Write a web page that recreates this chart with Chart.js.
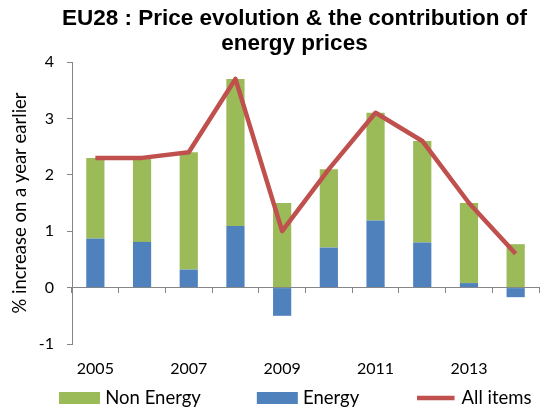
<!DOCTYPE html>
<html><head><meta charset="utf-8">
<script src="https://cdn.jsdelivr.net/npm/chart.js@4.4.1/dist/chart.umd.min.js"></script>
<style>html,body{margin:0;padding:0;background:#fff;overflow:hidden}canvas{display:block}</style>
</head><body>
<canvas id="c" width="541" height="410"></canvas>
<script>
// ---- data ----
const years = ['2005','2006','2007','2008','2009','2010','2011','2012','2013','2014'];
const xTickLabels = ['2005','','2007','','2009','','2011','','2013',''];
const nonEnergy = [1.43, 1.49, 2.08, 2.61, 1.50, 1.39, 1.91, 1.80, 1.42, 0.77];
const energy    = [0.87, 0.81, 0.32, 1.09, -0.50, 0.71, 1.19, 0.80, 0.08, -0.17];
const allItems  = [2.3, 2.3, 2.4, 3.7, 1.0, 2.1, 3.1, 2.6, 1.5, 0.6];
const seriesNames = ['Non Energy', 'Energy', 'All items'];
const yMin = -1, yMax = 4, yStep = 1;
const titleLines = ['EU28 : Price evolution & the contribution of', 'energy prices'];
const yAxisTitle = '% increase on a year earlier';

// ---- styles ----
const GREEN = '#9BBB59', BLUE = '#4F81BD', RED = '#C0504D', AXIS = '#868686';
const LEGEND_PAD = 60;
const LEGEND_FONT = 18.5;

Chart.defaults.font.family = 'Lato, "Open Sans", sans-serif';
Chart.defaults.color = '#000';

const layoutTweak = {
  id: 'layoutTweak',
  afterInit(chart) {
    const lg = chart.legend;
    if (lg) {
      const orig = lg.update;
      lg.update = function (w, h, m) { return orig.call(this, 2000, h, m); };
    }
  },
  afterLayout(chart) {
    const t = chart.titleBlock;
    if (t) { t.left = 48; t.right = 541; t.width = t.right - t.left; }
    const lg = chart.legend;
    if (lg && lg.lineWidths) {
      const W = lg.lineWidths[0];
      lg.right = 700;
      lg.left = 2 * 63 - LEGEND_PAD - lg.right + W;
      lg.width = lg.right - lg.left;
      lg.top = 398 - LEGEND_PAD - LEGEND_FONT / 2;
      lg.bottom = 410;
      lg.height = lg.bottom - lg.top;
    }
  }
};

new Chart(document.getElementById('c'), {
  type: 'bar',
  data: {
    labels: years,
    datasets: [
      { label: seriesNames[0], data: nonEnergy, backgroundColor: GREEN, borderWidth: 0, order: 2,
        barPercentage: 0.39, categoryPercentage: 1 },
      { label: seriesNames[1], data: energy, backgroundColor: BLUE, borderWidth: 0, order: 1,
        barPercentage: 0.39, categoryPercentage: 1 },
      { label: seriesNames[2], data: allItems, type: 'line', stack: 'line', borderColor: RED,
        backgroundColor: RED, borderWidth: 4.5, pointRadius: 0, pointHoverRadius: 0, tension: 0,
        borderJoinStyle: 'round', borderCapStyle: 'butt', fill: false, order: 0 }
    ]
  },
  options: {
    responsive: false,
    animation: false,
    devicePixelRatio: 1,
    layout: { padding: { top: 0, right: 2, bottom: 0, left: 0 } },
    plugins: {
      tooltip: { enabled: false },
      title: {
        display: true, text: titleLines, color: '#000',
        font: { family: '"Liberation Sans", Arial, sans-serif', size: 22.5, weight: 'bold', lineHeight: '25px' },
        padding: { top: 6, bottom: 6 }
      },
      legend: {
        display: true, position: 'bottom', maxHeight: 32,
        labels: {
          usePointStyle: true, pointStyleWidth: 33, boxHeight: 4, padding: LEGEND_PAD,
          font: { size: LEGEND_FONT }, color: '#000',
          generateLabels(chart) {
            return chart.data.datasets.map((ds, i) => {
              const isLine = ds.type === 'line';
              return {
                text: ds.label, datasetIndex: i, hidden: false,
                fillStyle: isLine ? 'rgba(0,0,0,0)' : ds.backgroundColor,
                strokeStyle: isLine ? ds.borderColor : ds.backgroundColor,
                lineWidth: isLine ? 4.5 : 8,
                pointStyle: isLine ? 'line' : 'rect',
                lineCap: isLine ? 'square' : 'butt',
                lineJoin: 'miter',
                fontColor: '#000'
              };
            });
          }
        }
      }
    },
    scales: {
      x: {
        type: 'category', axis: 'x', stacked: true, offset: true,
        position: { y: 0 },
        grid: { display: true, offset: true, drawOnChartArea: false, drawTicks: true, tickLength: 5, color: AXIS, lineWidth: 1 },
        border: { display: true, color: AXIS, width: 1 },
        ticks: { display: false }
      },
      x2: {
        type: 'category', axis: 'x', position: 'bottom', offset: true,
        grid: { display: false, drawTicks: false },
        border: { display: false },
        ticks: { autoSkip: false, maxRotation: 0, minRotation: 0, padding: 15, font: { size: 16 }, color: '#000',
          callback: (v, i) => xTickLabels[i] },
        afterFit(scale) { scale.height = 34; }
      },
      y: {
        stacked: true, min: yMin, max: yMax,
        grid: { display: true, drawOnChartArea: false, drawTicks: true, tickLength: 5, color: AXIS, lineWidth: 1 },
        border: { display: true, color: AXIS, width: 1 },
        ticks: { stepSize: yStep, padding: 13, font: { size: 16 }, color: '#000' },
        title: { display: true, text: yAxisTitle, color: '#000', font: { size: 18.5 }, padding: { top: 9, bottom: 0 } },
        afterFit(scale) { scale.width = 72; }
      }
    }
  },
  plugins: [layoutTweak]
});
</script>
</body></html>
